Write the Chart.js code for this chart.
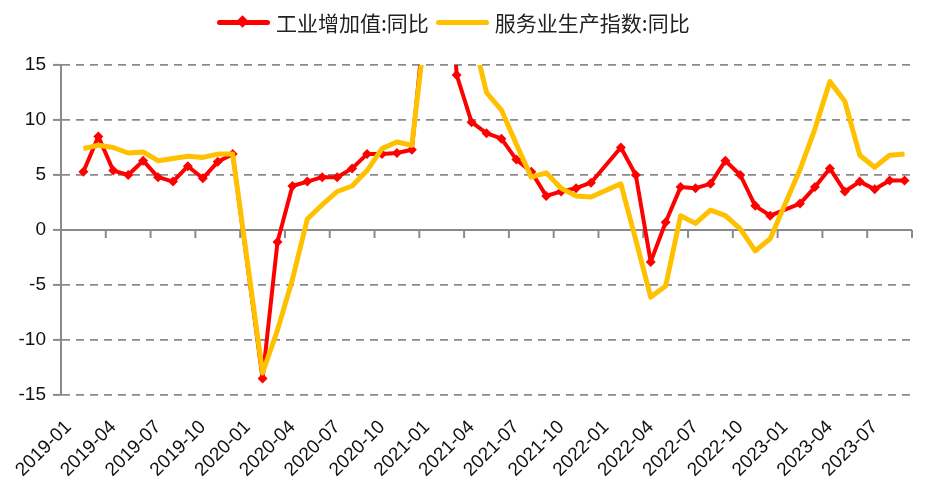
<!DOCTYPE html>
<html>
<head>
<meta charset="utf-8">
<script src="https://cdn.jsdelivr.net/npm/chart.js@4.4.0/dist/chart.umd.min.js"></script>
<style>
  body { margin: 0; background: #fff; }
  #wrap { position: relative; width: 930px; height: 494px; }
  #legend {
    position: absolute; left: 217px; top: 8px; height: 28px;
    display: flex; align-items: center;
    font-family: "Noto Sans CJK SC", sans-serif; font-size: 21px; color: #222;
  }
  .item { display: flex; align-items: center; margin-right: 7px; }
  .swatch { position: relative; width: 53px; height: 5px; border-radius: 3px; margin-right: 6px; }
  .dia { position: absolute; left: 21px; top: -3px; width: 9px; height: 9px; background: #ff0000; transform: rotate(45deg); }
</style>
</head>
<body>
<div id="wrap">
  <canvas id="chart" width="930" height="494"></canvas>
  <div id="legend">
    <div class="item"><div class="swatch" style="background:#ff0000"><div class="dia"></div></div><span>工业增加值:同比</span></div>
    <div class="item"><div class="swatch" style="background:#ffc000"></div><span>服务业生产指数:同比</span></div>
  </div>
</div>
<script>
const months = [
  '2019-01','2019-02','2019-03','2019-04','2019-05','2019-06','2019-07','2019-08','2019-09','2019-10','2019-11','2019-12',
  '2020-01','2020-02','2020-03','2020-04','2020-05','2020-06','2020-07','2020-08','2020-09','2020-10','2020-11','2020-12',
  '2021-01','2021-02','2021-03','2021-04','2021-05','2021-06','2021-07','2021-08','2021-09','2021-10','2021-11','2021-12',
  '2022-01','2022-02','2022-03','2022-04','2022-05','2022-06','2022-07','2022-08','2022-09','2022-10','2022-11','2022-12',
  '2023-01','2023-02','2023-03','2023-04','2023-05','2023-06','2023-07','2023-08','2023-09'
];
const tickLabels = [
  '2019-01','2019-04','2019-07','2019-10','2020-01','2020-04','2020-07','2020-10',
  '2021-01','2021-04','2021-07','2021-10','2022-01','2022-04','2022-07','2022-10',
  '2023-01','2023-04','2023-07'
];
const yTicks = [-15, -10, -5, 0, 5, 10, 15];

// 工业增加值:同比
const industry = [
  null, 5.3, 8.5, 5.4, 5.0, 6.3, 4.8, 4.4, 5.8, 4.7, 6.2, 6.9,
  null, -13.5, -1.1, 4.0, 4.4, 4.8, 4.8, 5.6, 6.9, 6.9, 7.0, 7.3,
  null, 35.1, 14.1, 9.8, 8.8, 8.3, 6.4, 5.3, 3.1, 3.5, 3.8, 4.3,
  null, 7.5, 5.0, -2.9, 0.7, 3.9, 3.8, 4.2, 6.3, 5.0, 2.2, 1.3,
  null, 2.4, 3.9, 5.6, 3.5, 4.4, 3.7, 4.5, 4.5
];
// 服务业生产指数:同比
const services = [
  null, 7.4, 7.7, 7.5, 7.0, 7.1, 6.3, 6.5, 6.7, 6.6, 6.9, 6.9,
  null, -13.0, -9.1, -4.5, 1.0, 2.3, 3.5, 4.0, 5.4, 7.4, 8.0, 7.7,
  null, 31.1, 25.3, 18.1, 12.5, 10.9, 7.8, 4.8, 5.2, 3.8, 3.1, 3.0,
  null, 4.2, -0.9, -6.1, -5.1, 1.3, 0.6, 1.8, 1.3, 0.1, -1.9, -0.8,
  null, 5.5, 9.2, 13.5, 11.7, 6.8, 5.7, 6.8, 6.9
];

const GRID = '#8a8a8a';
const FONT = '"Liberation Sans", Arial, sans-serif';

// solid zero axis with tick marks between every 3rd category
const zeroAxis = {
  id: 'zeroAxis',
  beforeDatasetsDraw(chart) {
    const { ctx, chartArea, scales } = chart;
    const x = scales.x, y = scales.y;
    const y0 = y.getPixelForValue(0);
    const half = (x.getPixelForValue(1) - x.getPixelForValue(0)) / 2;
    ctx.save();
    ctx.strokeStyle = GRID;
    ctx.lineWidth = 2;
    ctx.beginPath();
    ctx.moveTo(chartArea.left, y0);
    ctx.lineTo(chartArea.right, y0);
    for (let i = 0; i <= months.length; i += 3) {
      const px = x.getPixelForValue(i) - half;
      ctx.moveTo(px, y0);
      ctx.lineTo(px, y0 + 8);
    }
    ctx.stroke();
    ctx.restore();
  }
};

new Chart(document.getElementById('chart'), {
  type: 'line',
  data: {
    labels: months,
    datasets: [{
      label: '工业增加值:同比',
      data: industry,
      borderColor: '#ff0000',
      backgroundColor: '#ff0000',
      borderWidth: 4,
      pointStyle: 'rectRot',
      pointRadius: 5,
      pointBorderWidth: 0,
      spanGaps: true,
      borderJoinStyle: 'round',
      order: 2
    }, {
      label: '服务业生产指数:同比',
      data: services,
      borderColor: '#ffc000',
      backgroundColor: '#ffc000',
      borderWidth: 5,
      pointRadius: 0,
      spanGaps: true,
      borderJoinStyle: 'round',
      order: 1
    }]
  },
  options: {
    responsive: false,
    animation: false,
    events: [],
    layout: { padding: { top: 65, right: 18, left: 0, bottom: 0 } },
    plugins: { legend: { display: false }, tooltip: { enabled: false } },
    scales: {
      x: {
        offset: true,
        grid: { display: false, drawTicks: false },
        border: { display: false },
        ticks: {
          autoSkip: false,
          minRotation: 45,
          maxRotation: 45,
          padding: 21,
          color: '#111',
          font: { family: FONT, size: 19 },
          callback: function(v, i) {
            const lab = this.getLabelForValue(v);
            return tickLabels.includes(lab) ? lab : '';
          }
        },
        afterFit(scale) {
          scale.height = 99;
          scale.paddingLeft = 0;
          scale.paddingRight = 0;
        }
      },
      y: {
        min: -15,
        max: 15,
        afterBuildTicks(scale) { scale.ticks = yTicks.map(v => ({ value: v })); },
        grid: { color: GRID, lineWidth: 1.8, tickLength: 8, tickColor: GRID, tickWidth: 2 },
        border: { display: true, color: GRID, width: 2, dash: [8, 6] },
        ticks: { padding: 7, color: '#111', font: { family: FONT, size: 19 } },
        afterFit(scale) { scale.width = 61; }
      }
    }
  },
  plugins: [zeroAxis]
});
</script>
</body>
</html>
